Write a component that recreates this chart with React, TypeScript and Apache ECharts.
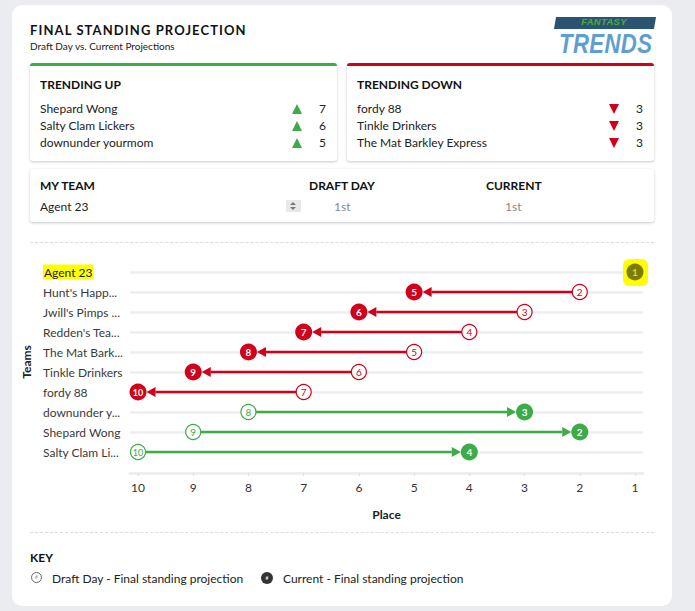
import React, { useEffect, useRef } from "react";
import * as echarts from "echarts";

const FONT = "Lato, 'Noto Sans', sans-serif";

// ---- data ----
const teams = [
  "Agent 23",
  "Hunt's Happ...",
  "Jwill's Pimps ...",
  "Redden's Tea...",
  "The Mat Bark...",
  "Tinkle Drinkers",
  "fordy 88",
  "downunder y...",
  "Shepard Wong",
  "Salty Clam Li...",
];
const draftDay = [1, 2, 3, 4, 5, 6, 7, 8, 9, 10];
const current = [1, 5, 6, 7, 8, 9, 10, 3, 2, 4];
const places = [10, 9, 8, 7, 6, 5, 4, 3, 2, 1];
const myTeam = "Agent 23";
const myTeamDraft = "1st";
const myTeamCurrent = "1st";

const trendingUpTeams = ["Shepard Wong", "Salty Clam Lickers", "downunder yourmom"];
const trendingUpValues = [7, 6, 5];
const trendingDownTeams = ["fordy 88", "Tinkle Drinkers", "The Mat Barkley Express"];
const trendingDownValues = [3, 3, 3];

const RED = "#d0011b";
const GREEN = "#3dab48";
const OLIVE = "#7c7c00";

type TProps = {
  x: number;
  cy: number;
  size?: number;
  weight?: number | string;
  color?: string;
  children?: React.ReactNode;
  style?: React.CSSProperties;
  align?: "left" | "right" | "center";
};

const T = ({ x, cy, size = 12, weight = 400, color = "#222", children, style, align = "left" }: TProps) => {
  const lh = Math.round(size * 1.4);
  const s: React.CSSProperties = {
    position: "absolute",
    top: cy - lh / 2,
    lineHeight: lh + "px",
    fontSize: size,
    fontWeight: weight as any,
    color,
    whiteSpace: "nowrap",
    ...style,
  };
  if (align === "left") s.left = x;
  else if (align === "right") s.right = 695 - x;
  else {
    s.left = x;
    s.transform = "translateX(-50%)";
  }
  return <div style={s}>{children}</div>;
};

const Tri = ({ cx, cy, up, color }: { cx: number; cy: number; up: boolean; color: string }) => (
  <div
    style={{
      position: "absolute",
      left: cx - 5,
      top: cy - 5,
      width: 0,
      height: 0,
      borderLeft: "5px solid transparent",
      borderRight: "5px solid transparent",
      ...(up ? { borderBottom: `10px solid ${color}` } : { borderTop: `10px solid ${color}` }),
    }}
  />
);

const Card = ({ x, y, w, h, top }: { x: number; y: number; w: number; h: number; top?: string }) => (
  <div
    style={{
      position: "absolute",
      left: x,
      top: y,
      width: w,
      height: h,
      background: "#fff",
      borderRadius: 3,
      boxShadow: "0 1px 3px rgba(0,0,0,0.22)",
      boxSizing: "border-box",
      borderTop: top ? `3px solid ${top}` : undefined,
    }}
  />
);

function renderItem(params: any, api: any) {
  const d = api.value(0);
  const c = api.value(1);
  const cat = api.value(2);
  const p0 = api.coord([d, cat]);
  const p1 = api.coord([c, cat]);
  const children: any[] = [];
  if (d === c) {
    children.push({
      type: "rect",
      shape: { x: p1[0] - 12, y: p1[1] - 13, width: 25, height: 27, r: 6 },
      style: { fill: "#ffff00" },
    });
    children.push({ type: "circle", shape: { cx: p1[0], cy: p1[1], r: 8.5 }, style: { fill: OLIVE } });
    children.push({
      type: "text",
      x: p1[0],
      y: p1[1],
      style: { text: String(c), align: "center", verticalAlign: "middle", fill: "#d6d64a", fontSize: 10, fontWeight: "bold", fontFamily: FONT },
    });
    return { type: "group", children };
  }
  const col = c < d ? GREEN : RED;
  const dir = p1[0] > p0[0] ? 1 : -1;
  const R = 8.5;
  const r0 = 7.5;
  const tipX = p1[0] - dir * R;
  const baseX = tipX - dir * 9;
  const y = p1[1];
  children.push({
    type: "line",
    shape: { x1: p0[0] + dir * r0, y1: y, x2: baseX, y2: y },
    style: { stroke: col, lineWidth: 2.5 },
  });
  children.push({
    type: "polygon",
    shape: { points: [[tipX, y], [baseX, y - 5], [baseX, y + 5]] },
    style: { fill: col },
  });
  children.push({
    type: "circle",
    shape: { cx: p0[0], cy: y, r: r0 },
    style: { fill: "#fff", stroke: col, lineWidth: 1.2 },
  });
  children.push({
    type: "text",
    x: p0[0],
    y: y,
    style: { text: String(d), align: "center", verticalAlign: "middle", fill: col, fontSize: d >= 10 ? 9 : 10, fontFamily: FONT },
  });
  children.push({ type: "circle", shape: { cx: p1[0], cy: y, r: R }, style: { fill: col } });
  children.push({
    type: "text",
    x: p1[0],
    y: y,
    style: { text: String(c), align: "center", verticalAlign: "middle", fill: "#fff", fontSize: c >= 10 ? 9 : 10, fontWeight: "bold", fontFamily: FONT },
  });
  return { type: "group", children };
}

const Chart = () => {
  const ref = useRef<HTMLDivElement>(null);
  useEffect(() => {
    if (!ref.current) return;
    const chart = echarts.init(ref.current, undefined, { renderer: "svg" });
    const data = teams.map((_, i) => [draftDay[i], current[i], i]);
    chart.setOption({
      animation: false,
      textStyle: { fontFamily: FONT },
      grid: { left: 130, right: 52, top: 32, height: 180 },
      xAxis: {
        type: "value",
        inverse: true,
        min: 0.855,
        max: 10.145,
        offset: 21,
        axisLine: { show: true, lineStyle: { color: "#eeeeee", width: 3 } },
        axisTick: { show: true, customValues: places, length: 3, lineStyle: { color: "#e2e2e2" } },
        axisLabel: { customValues: places, color: "#333", fontSize: 12, margin: 8 },
        splitLine: { show: false },
        name: "Place",
        nameLocation: "middle",
        nameGap: 35,
        nameTextStyle: { fontWeight: "bold", fontSize: 12, color: "#222" },
      },
      yAxis: {
        type: "category",
        inverse: true,
        boundaryGap: false,
        data: teams,
        axisLine: { show: false },
        axisTick: { show: false },
        axisLabel: {
          align: "left",
          margin: 87,
          fontSize: 12,
          color: "#3a3a3a",
          formatter: (v: string) => (v === myTeam ? `{hl|${v}}` : v),
          rich: { hl: { backgroundColor: "#ffff00", padding: [2, 1, 1, 1], color: "#222", fontSize: 12 } },
        },
        splitLine: { show: true, lineStyle: { color: "#eeeeee", width: 2.5 } },
        name: "Teams",
        nameLocation: "middle",
        nameGap: 91,
        nameRotate: 90,
        nameTextStyle: { fontWeight: "bold", fontSize: 12, color: "#222" },
      },
      series: [
        {
          type: "custom",
          renderItem,
          data,
          encode: { x: [0, 1], y: 2 },
          clip: false,
        },
      ],
    });
    return () => chart.dispose();
  }, []);
  return <div ref={ref} style={{ position: "absolute", left: 0, top: 240, width: 695, height: 300 }} />;
};

export default function App() {
  return (
    <div
      style={{
        position: "absolute",
        left: 0,
        top: 0,
        width: 695,
        height: 611,
        background: "#ebecef",
        fontFamily: FONT,
        overflow: "hidden",
      }}
    >
      <div style={{ position: "absolute", left: 12, top: 5, width: 660, height: 601, background: "#fff", borderRadius: 10 }} />

      {/* header */}
      <T x={30} cy={30} size={13} weight={700} color="#111" style={{ letterSpacing: 1.1 }}>
        FINAL STANDING PROJECTION
      </T>
      <T x={30} cy={46} size={10} color="#222">
        Draft Day vs. Current Projections
      </T>

      {/* logo */}
      <div style={{ position: "absolute", left: 555, top: 17, width: 100, height: 12, background: "#2b5472", transform: "skewX(-10deg)" }} />
      <div
        style={{
          position: "absolute",
          left: 604,
          top: 17.2,
          transform: "translateX(-50%)",
          fontSize: 9.5,
          lineHeight: "10px",
          fontWeight: 900,
          fontStyle: "italic",
          color: "#49ad3a",
          fontFamily: "'Liberation Sans', sans-serif",
          letterSpacing: 0.3,
        }}
      >
        FANTASY
      </div>
      <div
        style={{
          position: "absolute",
          left: 559,
          top: 31.8,
          fontSize: 28,
          lineHeight: "24px",
          fontWeight: 900,
          fontStyle: "italic",
          color: "#5e9fcf",
          fontFamily: "'Liberation Sans', sans-serif",
          transform: "scaleX(0.79)",
          transformOrigin: "left center",
          letterSpacing: 0.5,
        }}
      >
        TRENDS
      </div>

      {/* trending cards */}
      <Card x={30} y={63} w={307} h={98} top={GREEN} />
      <Card x={347} y={63} w={307} h={98} top={RED} />
      <T x={40} cy={84} size={12} weight={700} color="#111">TRENDING UP</T>
      <T x={357} cy={84} size={12} weight={700} color="#111">TRENDING DOWN</T>
      {trendingUpTeams.map((t, i) => (
        <React.Fragment key={"u" + i}>
          <T x={40} cy={108.5 + i * 17} size={12}>{t}</T>
          <Tri cx={297} cy={108.5 + i * 17} up color={GREEN} />
          <T x={326} cy={108.5 + i * 17} size={12} align="right">{trendingUpValues[i]}</T>
        </React.Fragment>
      ))}
      {trendingDownTeams.map((t, i) => (
        <React.Fragment key={"d" + i}>
          <T x={357} cy={108.5 + i * 17} size={12}>{t}</T>
          <Tri cx={614} cy={108.5 + i * 17} up={false} color={RED} />
          <T x={643} cy={108.5 + i * 17} size={12} align="right">{trendingDownValues[i]}</T>
        </React.Fragment>
      ))}

      {/* my team */}
      <Card x={30} y={169} w={624} h={53} />
      <T x={40} cy={185.5} size={12} weight={700} color="#111">MY TEAM</T>
      <T x={309} cy={185.5} size={12} weight={700} color="#111">DRAFT DAY</T>
      <T x={486} cy={185.5} size={12} weight={700} color="#111">CURRENT</T>
      <T x={40} cy={206} size={12}>{myTeam}</T>
      <div style={{ position: "absolute", left: 286, top: 200, width: 15, height: 12, background: "#e8e8e8" }}>
        <div style={{ position: "absolute", left: 4, top: 1.5, width: 0, height: 0, borderLeft: "3.5px solid transparent", borderRight: "3.5px solid transparent", borderBottom: "3.5px solid #777" }} />
        <div style={{ position: "absolute", left: 4, top: 7, width: 0, height: 0, borderLeft: "3.5px solid transparent", borderRight: "3.5px solid transparent", borderTop: "3.5px solid #777" }} />
      </div>
      <T x={334} cy={206} size={12} color="#888">{myTeamDraft}</T>
      <T x={505} cy={206} size={12} color="#888">{myTeamCurrent}</T>

      <div style={{ position: "absolute", left: 30, top: 242, width: 624, borderTop: "1px dashed #dddddd" }} />

      <Chart />

      <div style={{ position: "absolute", left: 30, top: 532, width: 624, borderTop: "1px dashed #dddddd" }} />

      {/* key */}
      <T x={30} cy={557.5} size={12} weight={700} color="#111">KEY</T>
      <div style={{ position: "absolute", left: 31, top: 572, width: 11, height: 11, borderRadius: "50%", border: "1px solid #666", boxSizing: "border-box", background: "#fff", fontSize: 5, lineHeight: "9px", textAlign: "center", color: "#999" }}>#</div>
      <T x={52} cy={578} size={12} color="#222">Draft Day - Final standing projection</T>
      <div style={{ position: "absolute", left: 261, top: 572, width: 12, height: 12, borderRadius: "50%", background: "#333", fontSize: 5, lineHeight: "12px", textAlign: "center", color: "#fff" }}>#</div>
      <T x={283} cy={578} size={12} color="#222">Current - Final standing projection</T>
    </div>
  );
}
